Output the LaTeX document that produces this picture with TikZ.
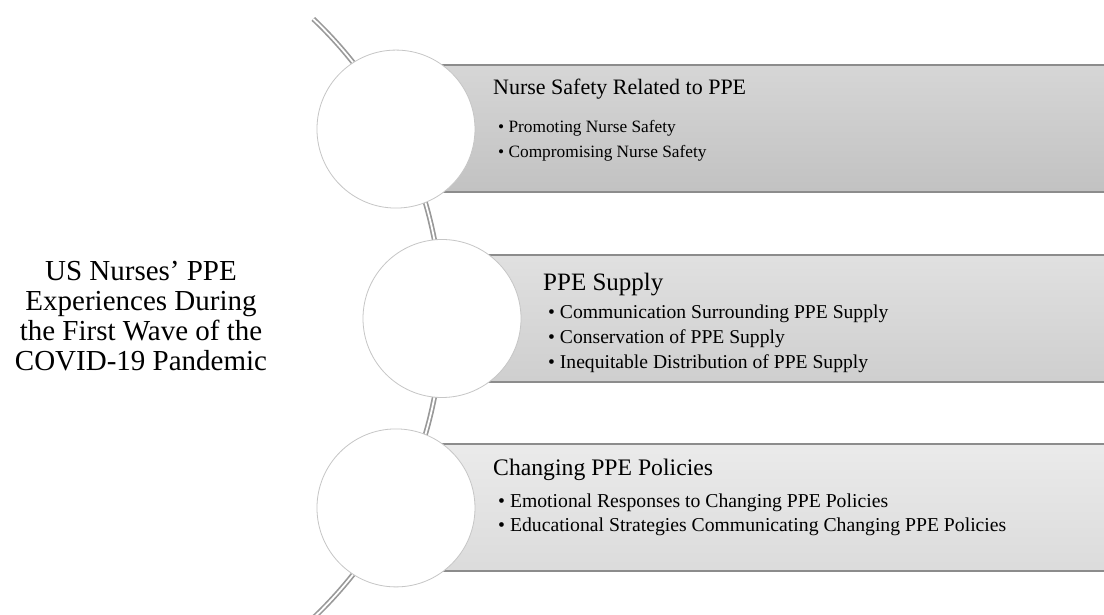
\documentclass[tikz,border=0pt]{standalone}
\usepackage{fontspec}
\setmainfont{Liberation Serif}
\usepackage{xcolor}
\usetikzlibrary{positioning}

\definecolor{edgegray}{HTML}{8C8C8C}
\definecolor{ringgray}{HTML}{C6C6C6}
\definecolor{pipegray}{HTML}{999999}

\tikzset{
  stage/.style={circle, draw=ringgray, line width=0.8pt, fill=white, minimum size=158pt, inner sep=0pt},
  bandedge/.style={edgegray, line width=1.6pt},
  bandtitle/.style={anchor=base west, inner sep=0pt},
  bandpoints/.style={anchor=base west, inner sep=0pt, align=left},
}

\begin{document}
\begin{tikzpicture}[x=1pt,y=1pt]
\clip (0,0) rectangle (1104,615);
\fill[white] (0,0) rectangle (1104,615);

% the bent pipe behind the circles
\coordinate (o) at (29,296.5);
\draw[pipegray, line width=1.7pt, double=white, double distance=1.8pt]
  (o) ++(46.5:413pt) arc[start angle=46.5, end angle=-46.5, radius=413pt];
\path (o) ++(27.3:413pt) coordinate (c1);
\path (o) ++(0:413pt) coordinate (c2);
\path (o) ++(-27.3:413pt) coordinate (c3);

% grey bands
\shade[top color=black!16, bottom color=black!24] (396,550) rectangle (1110,423);
\draw[bandedge] (396,550) -- (1110,550);
\draw[bandedge] (396,423) -- (1110,423);
\shade[top color=black!12, bottom color=black!19] (442,360) rectangle (1110,233);
\draw[bandedge] (442,360) -- (1110,360);
\draw[bandedge] (442,233) -- (1110,233);
\shade[top color=black!8, bottom color=black!14] (396,171) rectangle (1110,44);
\draw[bandedge] (396,171) -- (1110,171);
\draw[bandedge] (396,44) -- (1110,44);

% circles
\node[stage] (s1) at (c1) {};
\node[stage] (s2) at (c2) {};
\node[stage] (s3) at (c3) {};

% texts
\node[align=center, font=\fontsize{29}{30}\selectfont] (theme) at (141,299)
  {US Nurses' PPE\\Experiences During\\the First Wave of the\\COVID-19 Pandemic};

\node[bandtitle, font=\fontsize{22}{24}\selectfont] (t1) at (493,520) {Nurse Safety Related to PPE};
\node[bandpoints, font=\fontsize{17.3}{25}\selectfont] (p1) at (498,457)
  {\textbullet\ Promoting Nurse Safety\\\textbullet\ Compromising Nurse Safety};

\node[bandtitle, font=\fontsize{25}{24}\selectfont] (t2) at (543,324) {PPE Supply};
\node[bandpoints, font=\fontsize{19.6}{25}\selectfont] (p2) at (548,246)
  {\textbullet\ Communication Surrounding PPE Supply\\\textbullet\ Conservation of PPE Supply\\\textbullet\ Inequitable Distribution of PPE Supply};

\node[bandtitle, font=\fontsize{23.7}{24}\selectfont] (t3) at (493,139) {Changing PPE Policies};
\node[bandpoints, font=\fontsize{19.7}{24.5}\selectfont] (p3) at (498,83)
  {\textbullet\ Emotional Responses to Changing PPE Policies\\\textbullet\ Educational Strategies Communicating Changing PPE Policies};
\end{tikzpicture}
\end{document}
